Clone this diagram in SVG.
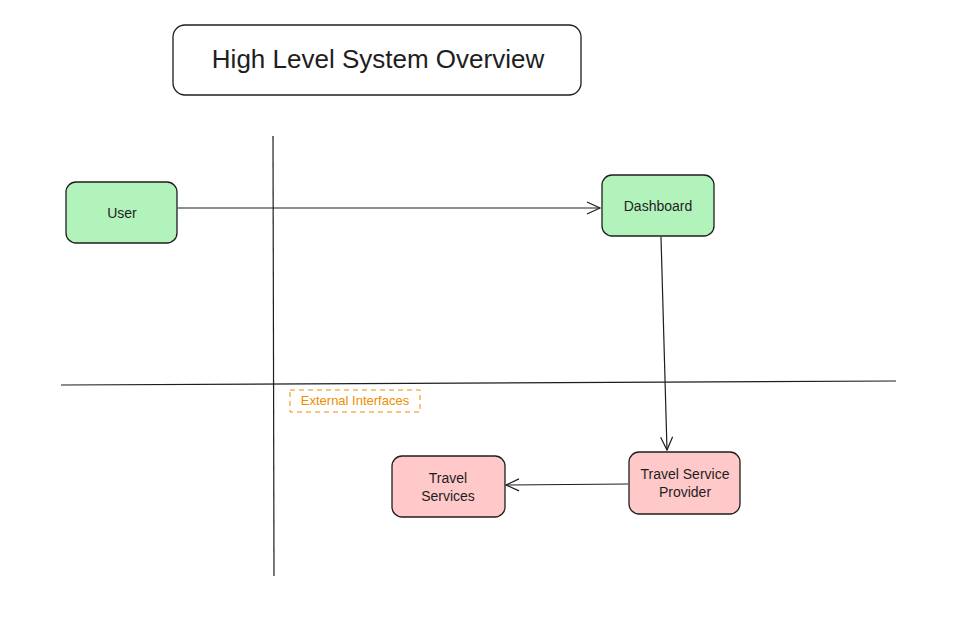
<svg xmlns="http://www.w3.org/2000/svg" width="957" height="634" viewBox="0 0 957 634">
<defs>
<style>
.box{stroke:#1e1e1e;stroke-width:1.3}
.t{font-family:"Liberation Sans",Arial,sans-serif;fill:#1e1e1e;text-anchor:middle}
.ln{stroke:#1e1e1e;stroke-width:1.2;fill:none}
.ar{stroke:#1e1e1e;stroke-width:1.2;fill:none;marker-end:url(#ah)}
</style>
<marker id="ah" markerWidth="16" markerHeight="14" refX="14" refY="7" orient="auto" markerUnits="userSpaceOnUse">
<path d="M1,1 L14,7 L1,13" fill="none" stroke="#1e1e1e" stroke-width="1.2"/>
</marker>
</defs>
<rect width="957" height="634" fill="#ffffff"/>
<g id="title">
<rect class="box" x="173" y="25" width="408" height="70" rx="12" fill="#ffffff"/>
<text class="t" x="378" y="68" font-size="26">High Level System Overview</text>
</g>
<g id="lanes">
<path class="ln" d="M273,136 L274,576"/>
<path class="ln" d="M61,385 L896,381"/>
</g>
<g id="external-label">
<rect x="290" y="390" width="130" height="22" fill="none" stroke="#f08c00" stroke-width="1" stroke-dasharray="5,4"/>
<text x="355" y="405" font-size="13" fill="#f08c00" text-anchor="middle" font-family="Liberation Sans,Arial,sans-serif">External Interfaces</text>
</g>
<g id="connectors">
<path class="ar" d="M178,208 L600,208"/>
<path class="ar" d="M661,237 L667,450"/>
<path class="ar" d="M628,484 L506,485"/>
</g>
<g id="user">
<rect class="box" x="66" y="182" width="111" height="61" rx="10" fill="#b2f2bb"/>
<text class="t" x="122" y="218" font-size="14">User</text>
</g>
<g id="dashboard">
<rect class="box" x="602" y="175" width="112" height="61" rx="10" fill="#b2f2bb"/>
<text class="t" x="658" y="211" font-size="14">Dashboard</text>
</g>
<g id="travel-service-provider">
<rect class="box" x="629" y="452" width="111" height="62" rx="10" fill="#ffc9c9"/>
<text class="t" x="685" y="479" font-size="14">Travel Service</text>
<text class="t" x="685" y="497" font-size="14">Provider</text>
</g>
<g id="travel-services">
<rect class="box" x="392" y="456" width="113" height="61" rx="10" fill="#ffc9c9"/>
<text class="t" x="448" y="483" font-size="14">Travel</text>
<text class="t" x="448" y="501" font-size="14">Services</text>
</g>
</svg>
